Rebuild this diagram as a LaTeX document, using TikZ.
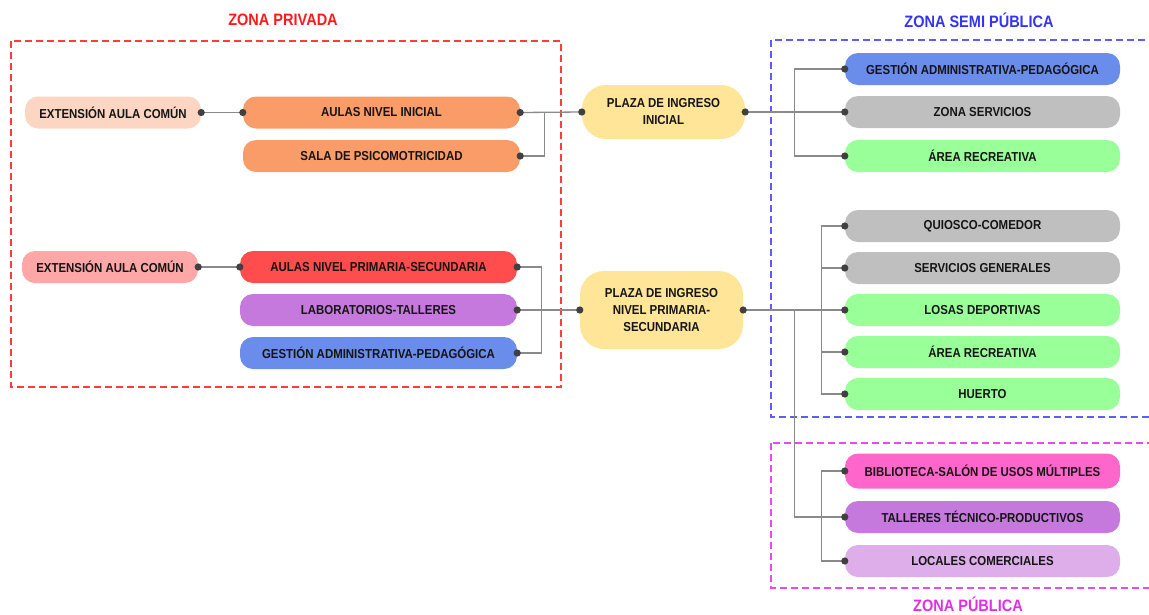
\documentclass[tikz,border=0pt]{standalone}
\usepackage{fontspec}
\setmainfont{Liberation Sans}
\newfontfamily\narrowsans{Liberation Sans}[FakeStretch=0.88]
\usetikzlibrary{calc}

\definecolor{ink}{HTML}{151515}
\definecolor{peach}{HTML}{FCD6C2}
\definecolor{orange}{HTML}{F99C68}
\definecolor{rose}{HTML}{FFA6A6}
\definecolor{redbox}{HTML}{FF4D4D}
\definecolor{violet}{HTML}{C679DC}
\definecolor{bluebox}{HTML}{6A8CEB}
\definecolor{sand}{HTML}{FFE597}
\definecolor{greybox}{HTML}{BFBFBF}
\definecolor{greenbox}{HTML}{99FF99}
\definecolor{pinkbox}{HTML}{FF66CC}
\definecolor{lilac}{HTML}{DDAEEA}
\definecolor{linkc}{HTML}{8A8A8A}
\definecolor{dotc}{HTML}{404040}
\definecolor{zred}{HTML}{FF1A1A}
\definecolor{zblue}{HTML}{3434F5}
\definecolor{zmag}{HTML}{E02EE8}

\begin{document}
\begin{tikzpicture}[x=1pt,y=-1pt,
  pill/.style={rounded corners=13pt, minimum height=32pt, inner sep=0pt,
    align=center, text=ink, font=\narrowsans\fontsize{13}{17}\selectfont\bfseries},
  wide/.style={pill, minimum width=277pt},
  side/.style={pill, minimum width=275pt},
  plaza/.style={pill, fill=sand, minimum width=163pt, rounded corners=24pt},
  link/.style={draw=linkc, line width=1.3pt},
  zone/.style={line width=1.2pt, dash pattern=on 7pt off 4pt},
  ztitle/.style={font=\narrowsans\fontsize{16.5}{18}\selectfont\bfseries}]

\useasboundingbox (0,0) rectangle (1149,614);

% zone frames
\draw[zone, draw=zred!85] (11,41) rectangle (561,387);
\draw[zone, draw=zblue!80] (771,40) rectangle (1153,417);
\draw[zone, draw=zmag!85] (771,443) rectangle (1153,588);

\node[ztitle, text=zred]  (tpriv) at (283,20)  {ZONA PRIVADA};
\node[ztitle, text=zblue] (tsemi) at (979,20)  {ZONA SEMI PÚBLICA};
\node[ztitle, text=zmag]  (tpub)  at (968,604) {ZONA PÚBLICA};

% private zone: initial level
\node[pill, fill=peach, minimum width=176pt] (ext1) at (113,112.5) {EXTENSIÓN AULA COMÚN};
\node[wide, fill=orange] (ai)   at (381.5,112.5) {AULAS NIVEL INICIAL};
\node[wide, fill=orange] (sala) at (381.5,156)   {SALA DE PSICOMOTRICIDAD};

% private zone: primary-secondary level
\node[pill, fill=rose, minimum width=176pt] (ext2) at (110,267) {EXTENSIÓN AULA COMÚN};
\node[wide, fill=redbox]  (aps) at (378.5,267) {AULAS NIVEL PRIMARIA-SECUNDARIA};
\node[wide, fill=violet]  (lab) at (378.5,310) {LABORATORIOS-TALLERES};
\node[wide, fill=bluebox] (gap) at (378.5,353) {GESTIÓN ADMINISTRATIVA-PEDAGÓGICA};

% entrance plazas
\node[plaza, minimum height=54pt] (pi)  at (663.5,112) {PLAZA DE INGRESO\\INICIAL};
\node[plaza, minimum height=78pt] (pps) at (661.5,310) {PLAZA DE INGRESO\\NIVEL PRIMARIA-\\SECUNDARIA};

% semi-public zone
\node[side, fill=bluebox]  (ges) at (982.5,69)  {GESTIÓN ADMINISTRATIVA-PEDAGÓGICA};
\node[side, fill=greybox]  (zs)  at (982.5,112) {ZONA SERVICIOS};
\node[side, fill=greenbox] (ar1) at (982.5,156) {ÁREA RECREATIVA};
\node[side, fill=greybox]  (qc)  at (982.5,226) {QUIOSCO-COMEDOR};
\node[side, fill=greybox]  (sg)  at (982.5,268) {SERVICIOS GENERALES};
\node[side, fill=greenbox] (ld)  at (982.5,310) {LOSAS DEPORTIVAS};
\node[side, fill=greenbox] (ar2) at (982.5,352) {ÁREA RECREATIVA};
\node[side, fill=greenbox] (hu)  at (982.5,394) {HUERTO};

% public zone
\node[side, fill=pinkbox, minimum height=35pt] (bib) at (982.5,471) {BIBLIOTECA-SALÓN DE USOS MÚLTIPLES};
\node[side, fill=violet] (ttp) at (982.5,517) {TALLERES TÉCNICO-PRODUCTIVOS};
\node[side, fill=lilac]  (lc)  at (982.5,561) {LOCALES COMERCIALES};

% connectors
\draw[link] (ext1.east) -- (ai.west);
\draw[link] (ai.east) -- (pi.west);
\draw[link] (sala.east) -- ++(24,0) |- (ai.east);

\draw[link] (ext2.east) -- (aps.west);
\draw[link] (lab.east) -- (pps.west);
\draw[link] (aps.east) -- ++(24,0) |- (gap.east);

\draw[link] (pi.east) -- (zs.west);
\draw[link] (ges.west) -- ++(-50,0) |- (pi.east);
\draw[link] (ar1.west) -- ++(-50,0) |- (pi.east);

\draw[link] (pps.east) -- (ld.west);
\foreach \n in {qc,sg,ar2,hu}
  \draw[link] (\n.west) -- ++(-23,0) |- (ld.west);
\draw[link] (ttp.west) -- ++(-50,0) |- (pps.east);
\foreach \n in {bib,lc}
  \draw[link] (\n.west) -- ++(-23,0) |- (ttp.west);

% connection dots
\foreach \p in {ext1.east, ai.west, ai.east, sala.east,
                ext2.east, aps.west, aps.east, lab.east, gap.east,
                pi.west, pi.east, pps.west, pps.east,
                ges.west, zs.west, ar1.west, qc.west, sg.west, ld.west,
                ar2.west, hu.west, bib.west, ttp.west, lc.west}
  \fill[dotc] (\p) circle (3.6pt);

\end{tikzpicture}
\end{document}
